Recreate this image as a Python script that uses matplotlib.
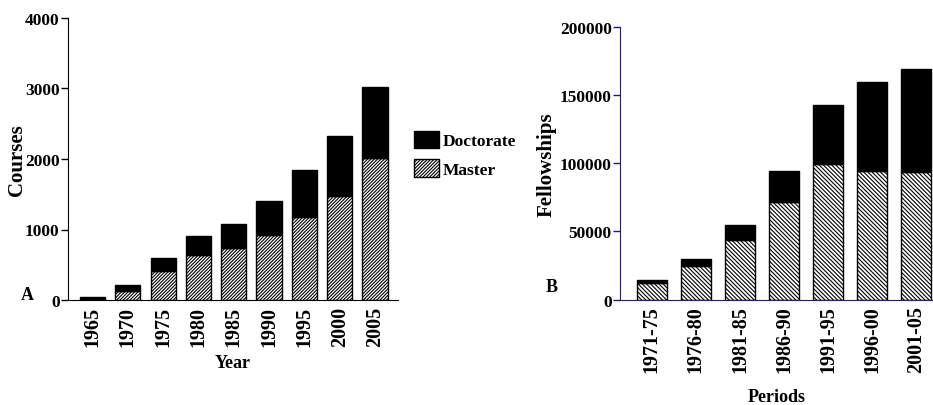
import matplotlib
matplotlib.use("Agg")
import matplotlib.pyplot as plt
import numpy as np

# Painel A: cursos de pós-graduação por ano
anos = ["1965", "1970", "1975", "1980", "1985", "1990", "1995", "2000", "2005"]
cursos_mestrado = [20, 132, 416, 634, 738, 922, 1182, 1471, 2014]
cursos_total = [47, 217, 596, 908, 1074, 1400, 1844, 2322, 3026]
cursos_doutorado = [t - m for t, m in zip(cursos_total, cursos_mestrado)]

# Painel B: bolsas por período
periodos = ["1971-75", "1976-80", "1981-85", "1986-90", "1991-95", "1996-00", "2001-05"]
bolsas_mestrado = [12000, 24900, 43700, 71800, 99600, 94300, 93300]
bolsas_total = [14400, 29800, 54900, 94300, 142600, 159300, 169200]
bolsas_doutorado = [t - m for t, m in zip(bolsas_total, bolsas_mestrado)]

plt.rcParams["font.family"] = ["Liberation Serif", "DejaVu Serif"]
plt.rcParams["font.weight"] = "bold"
plt.rcParams["hatch.linewidth"] = 0.8

W, H = 933, 406
fig = plt.figure(figsize=(W / 100, H / 100), dpi=100)
AZUL = "#1a1a8c"
F_TICK, F_ROT, F_LAB = 12.5, 14.5, 15


def eixo(px_esq, px_topo, px_dir, px_base):
    return fig.add_axes([px_esq / W, 1 - px_base / H, (px_dir - px_esq) / W, (px_base - px_topo) / H])


def estilo(a, rotulos, cor):
    a.set_xticks(np.arange(len(rotulos)))
    a.set_xticklabels(rotulos, rotation=90, fontsize=F_ROT, fontweight="bold")
    a.tick_params(axis="x", length=0, pad=4)
    a.tick_params(axis="y", length=5, width=1, labelsize=F_TICK, pad=1, color=cor)
    for t in a.get_yticklabels():
        t.set_fontweight("bold")
    for s in ("top", "right"):
        a.spines[s].set_visible(False)
    for s in ("left", "bottom"):
        a.spines[s].set_color(cor)


# ---- A ----
ax = eixo(68, 19, 398, 301)
x = np.arange(len(anos))
ax.bar(x, cursos_mestrado, 0.71, color="white", edgecolor="black", hatch="//////////", lw=1, label="Master")
ax.bar(x, cursos_doutorado, 0.71, bottom=cursos_mestrado, color="black", edgecolor="black", lw=1,
       label="Doctorate")
ax.set_xlim(-0.69, 8.65)
ax.set_ylim(0, 4000)
ax.set_yticks([0, 1000, 2000, 3000, 4000])
estilo(ax, anos, "black")
ax.set_ylabel("Courses", fontsize=F_LAB, fontweight="bold")
ax.yaxis.set_label_coords(-0.155, 0.5)
ax.set_xlabel("Year", fontsize=13, fontweight="bold")
ax.xaxis.set_label_coords(0.5, -0.223)
ax.xaxis.label.set_va("center")
ax.yaxis.label.set_va("center")
ax.text(-0.124, 0.018, "A", transform=ax.transAxes, fontsize=13, fontweight="bold", ha="center", va="center")
h, l = ax.get_legend_handles_labels()
fig.legend(h[::-1], l[::-1], loc="upper left", bbox_to_anchor=(398 / W, 1 - 116 / H), frameon=False,
           handlelength=1.45, handleheight=1.2, handletextpad=0.25, labelspacing=0.55,
           prop={"weight": "bold", "size": 12.5})

# ---- B ----
bx = eixo(620, 27.7, 933, 300.7)
x = np.arange(len(periodos))
bx.bar(x, bolsas_mestrado, 0.68, color="white", edgecolor="black", hatch="\\\\\\\\\\\\\\\\", lw=1)
bx.bar(x, bolsas_doutorado, 0.68, bottom=bolsas_mestrado, color="black", edgecolor="black", lw=1)
bx.set_xlim(-0.72, 6.38)
bx.set_ylim(0, 200000)
bx.set_yticks([0, 50000, 100000, 150000, 200000])
estilo(bx, periodos, AZUL)
bx.set_ylabel("Fellowships", fontsize=F_LAB, fontweight="bold")
bx.yaxis.set_label_coords(-0.233, 0.5)
bx.set_xlabel("Periods", fontsize=13, fontweight="bold")
bx.xaxis.set_label_coords(0.5, -0.353)
bx.xaxis.label.set_va("center")
bx.yaxis.label.set_va("center")
bx.text(-0.217, 0.048, "B", transform=bx.transAxes, fontsize=13, fontweight="bold", ha="center", va="center")

fig.savefig("out.png", dpi=100, facecolor="white")
